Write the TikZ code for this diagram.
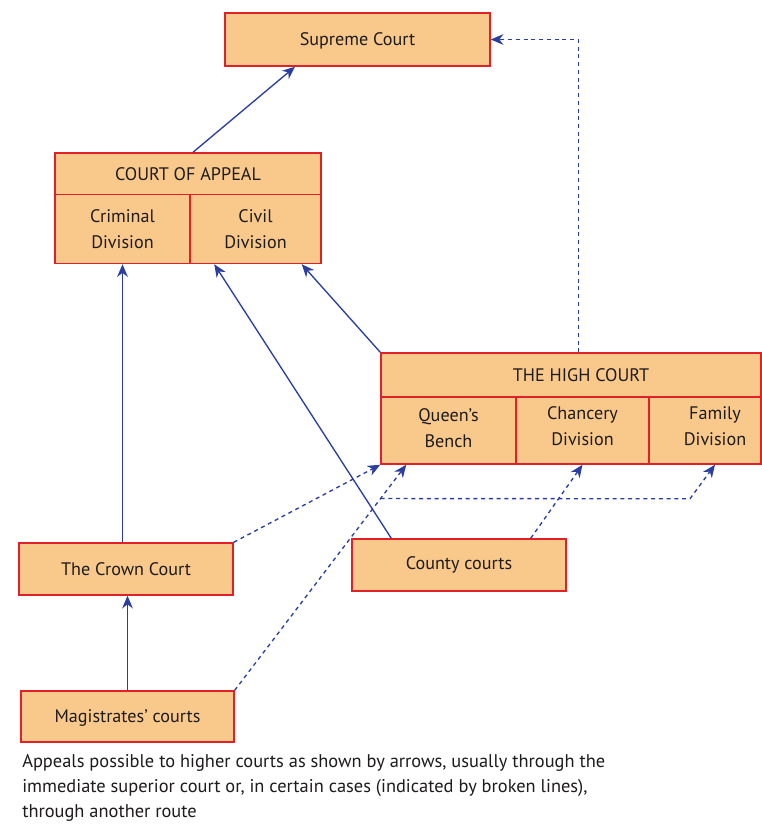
\documentclass[tikz,border=0pt]{standalone}
\usepackage{fontspec}
\setmainfont{PT Sans}
\usetikzlibrary{arrows.meta,calc}
\definecolor{boxfill}{RGB}{249,201,140}
\definecolor{boxline}{RGB}{226,32,40}
\definecolor{arrowblue}{RGB}{42,62,160}
\definecolor{txt}{RGB}{30,27,28}
\begin{document}
\begin{tikzpicture}[x=0.75pt,y=-0.75pt,
 court/.style={draw=boxline,fill=boxfill,line width=1.1pt,inner sep=0pt,text=txt,
   font=\fontsize{13.6}{19.5}\selectfont,align=center},
 bx/.style 2 args={minimum width=#1*0.75pt,minimum height=#2*0.75pt},
 lbl/.style={text=txt,font=\fontsize{13.6}{19.5}\selectfont,align=center,inner sep=0pt},
 captxt/.style={text=txt,font=\fontsize{13.8}{18.75}\selectfont,inner sep=0pt,anchor=base west},
 up/.style={draw=arrowblue,line width=1pt,-{Stealth[length=9.5pt,width=8pt,inset=3pt]}},
 alt/.style={up,dash pattern=on 3pt off 2.8pt},
]
\useasboundingbox[fill=white] (0,0) rectangle (762,827);

% boxes
\node[court,bx={265}{53},text depth=0pt] (supreme) at (357.5,39.5) {Supreme Court};
\node[court,bx={266}{42}] (coa) at (188,174) {COURT OF APPEAL};
\node[court,bx={135}{69}] (criminal) at (122.5,229) {Criminal\\Division};
\node[court,bx={131}{69}] (civil) at (255.5,229) {Civil\\Division};

\node[court,bx={380}{44}] (hc) at (571,375) {};
\node[lbl] (hctitle) at (581,375) {THE HIGH COURT};
\node[court,bx={135}{67}] (qb) at (448.5,430.5) {};
\node[court,bx={133}{67}] (ch) at (582.5,430.5) {};
\node[court,bx={112}{67}] (fam) at (705,430.5) {};
\node[lbl] (qbtxt) at (448.5,428) {Queen's\\Bench};
\node[lbl] (chtxt) at (582.5,426.5) {Chancery\\Division};
\node[lbl] (famtxt) at (715,426.5) {Family\\Division};

\node[court,bx={214}{52}] (crown) at (126,569) {The Crown Court};
\node[court,bx={214}{52}] (county) at (459,565) {County courts};
\node[court,bx={213}{51},text depth=0pt] (magis) at (127.5,716.5) {Magistrates' courts};

% caption
\node[captxt] (cap1) at (22,767) {Appeals possible to higher courts as shown by arrows, usually through the};
\node[captxt] (cap2) at (22,792) {immediate superior court or, in certain cases (indicated by broken lines),};
\node[captxt] (cap3) at (22,817) {through another route};

% solid appeals
\draw[up] ($(coa.north)+(5,0)$) -- ($(supreme.south)+(-62.5,0)$);
\draw[up] (criminal.south |- crown.north) -- (criminal.south);
\draw[up] (magis.north) -- (magis.north |- crown.south);
\draw[up] ($(county.north west)+(40,0)$) -- ($(civil.south west)+(25,0)$);
\draw[up] (hc.north west) -- ($(civil.south east)+(-20,0)$);

% broken-line appeals
\draw[alt] ($(hc.north west)+(198,0)$) |- (supreme.east);
\draw[alt] (crown.north east) -- (qb.south west);
\coordinate (qbin) at ($(qb.south west)+(26,0)$);
\draw[alt] (magis.north east) -- (qbin);
\draw[alt] ($(county.north east)+(-36,0)$) -- (ch.south);
\coordinate (br) at ($(magis.north east)!0.85!(qbin)$);
\draw[alt] (br) -- ($(fam.south)+(-15,34)$) -- ($(fam.south)+(10,0)$);
\end{tikzpicture}
\end{document}
